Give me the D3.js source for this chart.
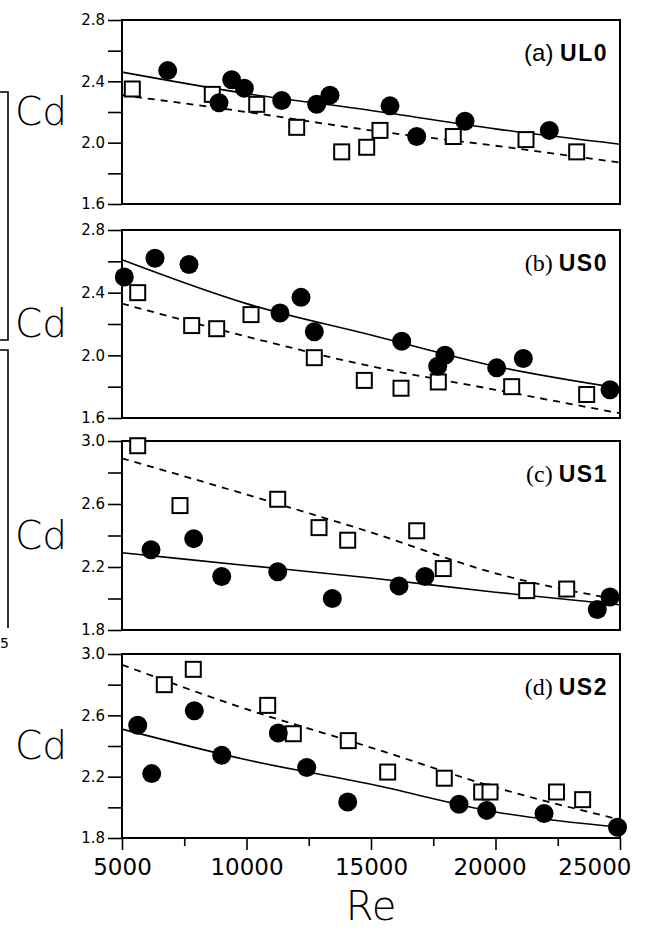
<!DOCTYPE html>
<html>
<head>
<meta charset="utf-8">
<script src="https://cdn.jsdelivr.net/npm/d3@7"></script>
<style>
  body { margin: 0; background: #fff; }
  text { fill: #000; }
</style>
</head>
<body>
<div id="vis"></div>
<script>
// Cd vs Re, four configurations

let reMajor = [5000, 10000, 15000, 20000, 25000]
let reMinor = [7500, 12500, 17500, 22500]
let fitRe = [5000, 10000, 15000, 20000, 25000]

let panelTags = ["(a)", "(b)", "(c)", "(d)"]
let panelNames = ["UL0", "US0", "US1", "US2"]
let cdDomains = [[1.6, 2.8], [1.6, 2.8], [1.8, 3.0], [1.8, 3.0]]

// filled circles  [Re, Cd]
let ul0Filled = [[6835, 2.47], [8896, 2.26], [9405, 2.41], [9912, 2.355], [11414, 2.275], [12819, 2.25],
                 [13353, 2.31], [15763, 2.24], [16835, 2.04], [18775, 2.14], [22161, 2.08]]
let us0Filled = [[5092, 2.50], [6325, 2.62], [7691, 2.58], [11345, 2.27], [12189, 2.37], [12723, 2.15],
                 [16233, 2.09], [17679, 1.93], [17972, 2.00], [20048, 1.92], [21117, 1.98], [24598, 1.78]]
let us1Filled = [[6165, 2.31], [7879, 2.38], [9004, 2.14], [11253, 2.17], [13446, 2.00], [16124, 2.08],
                 [17168, 2.14], [24088, 1.93], [24598, 2.01]]
let us2Filled = [[5631, 2.535], [6193, 2.22], [7904, 2.63], [9004, 2.34], [11277, 2.485], [12418, 2.26],
                 [14064, 2.035], [18534, 2.02], [19647, 1.98], [21950, 1.96], [24900, 1.87]]

// open squares  [Re, Cd]
let ul0Open = [[5414, 2.35], [8626, 2.315], [10410, 2.25], [12016, 2.10], [13823, 1.94], [14827, 1.97],
               [15361, 2.08], [18305, 2.04], [21225, 2.02], [23260, 1.94]]
let us0Open = [[5631, 2.40], [7799, 2.19], [8803, 2.17], [10181, 2.26], [12723, 1.985], [14731, 1.84],
               [16205, 1.79], [17703, 1.83], [20650, 1.80], [23662, 1.75]]
let us1Open = [[5631, 2.97], [7329, 2.59], [11253, 2.63], [12912, 2.45], [14064, 2.37], [16835, 2.43],
               [17903, 2.19], [21253, 2.05], [22859, 2.06]]
let us2Open = [[6699, 2.80], [7863, 2.90], [10851, 2.665], [11880, 2.48], [14088, 2.435], [15670, 2.23],
               [17943, 2.19], [19445, 2.10], [19779, 2.10], [22450, 2.10], [23500, 2.05]]

// fitted curves, Cd at fitRe
let ul0Solid = [2.46, 2.32, 2.21, 2.09, 1.99]
let ul0Dashed = [2.31, 2.20, 2.08, 1.98, 1.87]
let us0Solid = [2.61, 2.33, 2.13, 1.93, 1.79]
let us0Dashed = [2.33, 2.12, 1.93, 1.78, 1.63]
let us1Solid = [2.29, 2.21, 2.13, 2.04, 1.96]
let us1Dashed = [2.89, 2.66, 2.42, 2.16, 1.99]
let us2Solid = [2.51, 2.31, 2.15, 1.97, 1.87]
let us2Dashed = [2.93, 2.64, 2.39, 2.13, 1.92]

let filled = [ul0Filled, us0Filled, us1Filled, us2Filled]
let open = [ul0Open, us0Open, us1Open, us2Open]
let solid = [ul0Solid, us0Solid, us1Solid, us2Solid]
let dashed = [ul0Dashed, us0Dashed, us1Dashed, us2Dashed]

// layout
let panelTop = [20, 230, 441, 654]
let panelBottom = [204, 418, 630, 838]
let sans = "'DejaVu Sans', sans-serif"

let svg = d3.select("#vis").append("svg")
    .attr("width", 646)
    .attr("height", 930)

let x = d3.scaleLinear().domain([5000, 25000]).range([122, 620])

panelNames.forEach((name, i) => {
    let dom = cdDomains[i]
    let y = d3.scaleLinear().domain(dom).range([panelBottom[i], panelTop[i]])
    let g = svg.append("g")

    let ticks = d3.range(0, 7).map(k => +(dom[0] + k * 0.2).toFixed(1))
    let yAxis = d3.axisLeft(y)
        .tickValues(ticks)
        .tickSize(14)
        .tickSizeOuter(0)
        .tickPadding(3)
        .tickFormat((d, k) => k % 2 === 0 ? d3.format(".1f")(d) : "")

    let ay = g.append("g")
        .attr("transform", `translate(${x.range()[0]},0)`)
        .call(yAxis)
    ay.select(".domain").remove()
    ay.selectAll("line").attr("stroke-width", 1.6)
    ay.selectAll("text")
        .attr("font-family", sans)
        .attr("font-size", 15)

    g.append("rect")
        .attr("x", x.range()[0])
        .attr("y", panelTop[i])
        .attr("width", x.range()[1] - x.range()[0])
        .attr("height", panelBottom[i] - panelTop[i])
        .attr("fill", "none")
        .attr("stroke", "#000")
        .attr("stroke-width", 2)

    let line = d3.line()
        .x((d, k) => x(fitRe[k]))
        .y(d => y(d))
        .curve(d3.curveMonotoneX)

    g.append("path")
        .attr("d", line(solid[i]))
        .attr("fill", "none")
        .attr("stroke", "#000")
        .attr("stroke-width", 1.6)

    g.append("path")
        .attr("d", line(dashed[i]))
        .attr("fill", "none")
        .attr("stroke", "#000")
        .attr("stroke-width", 1.8)
        .attr("stroke-dasharray", "7,6")

    g.selectAll("rect.sq")
        .data(open[i])
        .join("rect")
        .attr("class", "sq")
        .attr("x", d => x(d[0]) - 7.5)
        .attr("y", d => y(d[1]) - 7.5)
        .attr("width", 15)
        .attr("height", 15)
        .attr("fill", "#fff")
        .attr("stroke", "#000")
        .attr("stroke-width", 2)

    g.selectAll("circle")
        .data(filled[i])
        .join("circle")
        .attr("cx", d => x(d[0]))
        .attr("cy", d => y(d[1]))
        .attr("r", 9.5)
        .attr("fill", "#000")

    let lab = g.append("text")
        .attr("x", 608)
        .attr("y", panelTop[i] + 41)
        .attr("text-anchor", "end")
    lab.append("tspan")
        .attr("font-family", i === 0 ? "'Liberation Sans', sans-serif" : "'Liberation Serif', serif")
        .attr("font-size", 24)
        .text(panelTags[i] + " ")
    lab.append("tspan")
        .attr("font-family", "'Liberation Sans', sans-serif")
        .attr("font-weight", "bold")
        .attr("font-size", 23)
        .attr("letter-spacing", 1.5)
        .text(name)

    g.append("text")
        .attr("x", 67)
        .attr("y", (panelTop[i] + panelBottom[i]) / 2 + 13)
        .attr("text-anchor", "end")
        .attr("font-family", sans)
        .attr("font-weight", 200)
        .attr("font-size", 39)
        .text("Cd")

    if (i === 3) {
        let ax = g.append("g")
            .attr("transform", `translate(0,${panelBottom[i]})`)
            .call(d3.axisBottom(x).tickValues(reMajor).tickSize(12).tickSizeOuter(0).tickPadding(9).tickFormat(d3.format("d")))
        ax.select(".domain").remove()
        ax.selectAll("line").attr("stroke-width", 1.6)
        ax.selectAll("text")
            .attr("font-family", sans)
            .attr("font-size", 23)
            .attr("text-anchor", d => d === 25000 ? "end" : "middle")
            .attr("x", d => d === 25000 ? 11 : d === 20000 ? -6 : 0)

        let mx = g.append("g")
            .attr("transform", `translate(0,${panelBottom[i]})`)
            .call(d3.axisBottom(x).tickValues(reMinor).tickSize(8).tickSizeOuter(0).tickFormat(""))
        mx.select(".domain").remove()
        mx.selectAll("line").attr("stroke-width", 1.6)

        svg.append("text")
            .attr("x", (x.range()[0] + x.range()[1]) / 2)
            .attr("y", 920)
            .attr("text-anchor", "middle")
            .attr("font-family", sans)
            .attr("font-weight", 200)
            .attr("font-size", 40)
            .text("Re")
    }
})

// cut-off bits of the neighbouring figure on the left edge
let edge = svg.append("g")
    .attr("fill", "none")
    .attr("stroke", "#000")
    .attr("stroke-width", 1.6)
edge.append("path").attr("d", "M0,92 H8 V340 H0")
edge.append("path").attr("d", "M0,350 H8 V628")
svg.append("text")
    .attr("x", 0)
    .attr("y", 648)
    .attr("font-family", sans)
    .attr("font-size", 14)
    .text("5")
</script>
</body>
</html>
